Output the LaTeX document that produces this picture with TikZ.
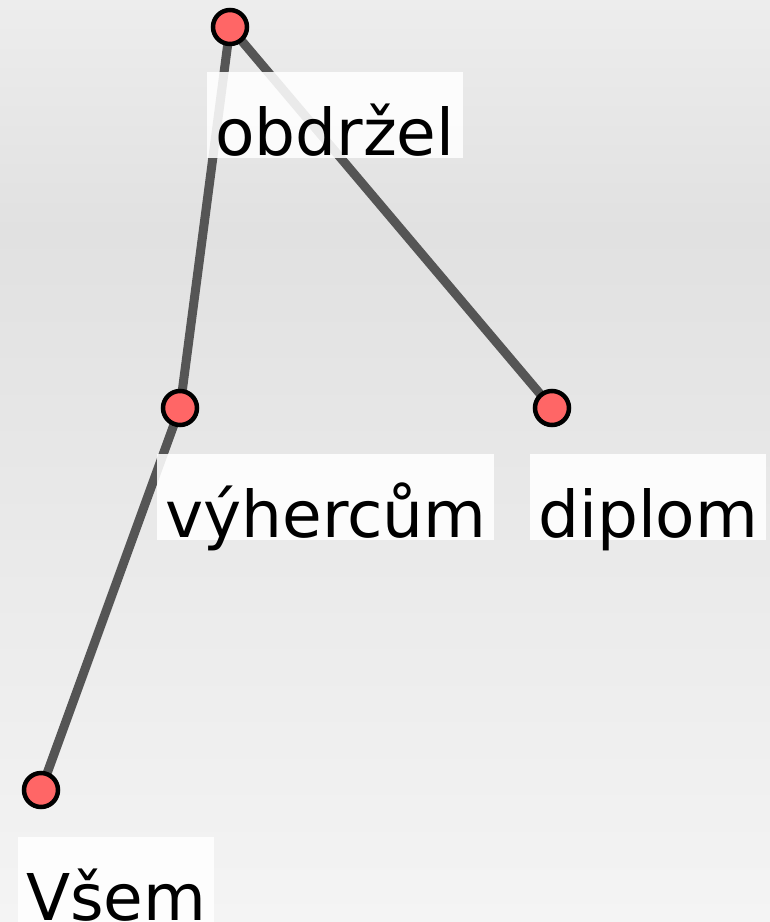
\documentclass[tikz,border=0pt]{standalone}
\usepackage{fontspec}
\setmainfont{DejaVu Sans}
\begin{document}
\begin{tikzpicture}[x=1pt,y=-1pt,
  vertex/.style={circle, draw=black, line width=4.5pt, fill=nodered, minimum size=34pt, inner sep=0pt},
  edge/.style={draw=edgegray, line width=9pt},
  lbl/.style={fill=white, fill opacity=0.88, text opacity=1, inner xsep=8pt, inner ysep=0pt,
    text height=83pt, text depth=3pt, font=\fontsize{64.5}{64.5}\selectfont, anchor=base west}]
  \definecolor{nodered}{HTML}{FF6666}
  \definecolor{edgegray}{HTML}{555555}
  \definecolor{bgtop}{HTML}{EDEDED}
  \definecolor{bgmid}{HTML}{E1E1E1}
  \definecolor{bgbot}{HTML}{F4F4F4}
  % background
  \useasboundingbox (0,0) rectangle (770,922);
  \shade[top color=bgtop, bottom color=bgmid] (0,0) rectangle (770,231);
  \shade[top color=bgmid, bottom color=bgbot] (0,230) rectangle (770,922);
  % vertices (positions)
  \coordinate (p1) at (230,27);
  \coordinate (p2) at (180,408);
  \coordinate (p3) at (552,408);
  \coordinate (p4) at (41,790);
  % edges
  \draw[edge] (p1) -- (p2);
  \draw[edge] (p1) -- (p3);
  \draw[edge] (p2) -- (p4);
  % labels
  \node[lbl] (l1) at ([shift={(-23,128)}]p1) {obdržel};
  \node[lbl] (l2) at ([shift={(-23,129)}]p2) {výhercům};
  \node[lbl] (l3) at ([shift={(-22,129)}]p3) {diplom};
  \node[lbl] (l4) at ([shift={(-23,130)}]p4) {Všem};
  % vertex circles
  \node[vertex] (n1) at (p1) {};
  \node[vertex] (n2) at (p2) {};
  \node[vertex] (n3) at (p3) {};
  \node[vertex] (n4) at (p4) {};
\end{tikzpicture}
\end{document}
